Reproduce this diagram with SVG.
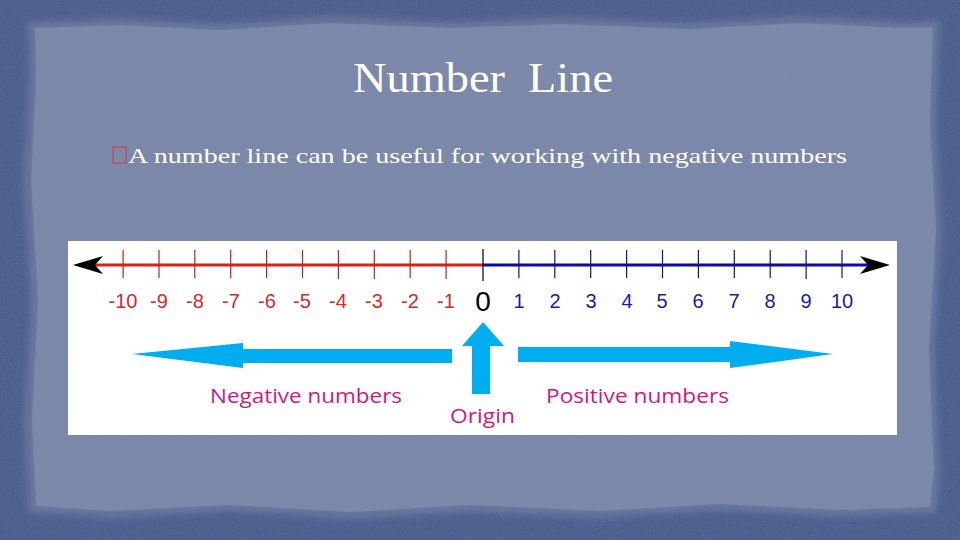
<svg xmlns="http://www.w3.org/2000/svg" width="960" height="540" viewBox="0 0 960 540">
<defs>
<filter id="tex" x="0" y="0" width="100%" height="100%">
<feTurbulence type="fractalNoise" baseFrequency="0.9" numOctaves="2" seed="3" result="n"/>
<feColorMatrix in="n" type="matrix" values="0 0 0 0 0.3  0 0 0 0 0.35  0 0 0 0 0.5  0 0 0 0.35 0"/>
</filter>
<filter id="soft" x="-5%" y="-5%" width="110%" height="110%">
<feGaussianBlur stdDeviation="3"/>
</filter>
<style>
.neg{fill:#d42a2a;font-family:"Liberation Sans",Arial,sans-serif;font-size:20px;text-anchor:middle}
.pos{fill:#1a1aa8;font-family:"Liberation Sans",Arial,sans-serif;font-size:20px;text-anchor:middle}
.tn{stroke:#c81e1e;stroke-width:1.2}
.tp{stroke:#10109a;stroke-width:1.2}
.lab{fill:#d0187c;font-family:"Open Sans","Noto Sans",sans-serif;font-size:20px}
.cy{fill:#00aeef}
</style>
</defs>
<rect width="960" height="540" fill="#46598a"/>
<rect width="960" height="540" filter="url(#tex)" opacity="0.7"/>
<polygon filter="url(#soft)" fill="#66759c" points="28,22 120,18 220,24 330,16 450,22 560,17 690,23 800,16 905,22 940,20 936,120 942,230 934,350 940,470 936,513 840,517 720,510 600,518 470,512 350,519 230,511 110,518 28,512 24,420 31,300 23,180 29,80"/>
<polygon fill="#7a87a9" points="35,28 120,25 220,30 330,23 450,28 560,24 690,29 800,23 900,28 933,27 930,120 936,230 929,350 934,470 930,507 840,510 720,504 600,511 470,505 350,512 230,505 110,511 36,506 32,420 38,300 31,180 36,80"/>
<polygon filter="url(#tex)" opacity="0.35" points="35,28 120,25 220,30 330,23 450,28 560,24 690,29 800,23 900,28 933,27 930,120 936,230 929,350 934,470 930,507 840,510 720,504 600,511 470,505 350,512 230,505 110,511 36,506 32,420 38,300 31,180 36,80"/>
<g id="title">
<text x="483" y="92" fill="#ffffff" font-family="'Liberation Serif','DejaVu Serif',serif" font-size="42" text-anchor="middle" textLength="260" lengthAdjust="spacingAndGlyphs" xml:space="preserve">Number  Line</text>
</g>
<g id="bullet">
<rect x="113" y="147" width="13" height="16" fill="none" stroke="#c04848" stroke-width="1.2"/>
<text x="128" y="163" fill="#ffffff" font-family="'Liberation Serif','DejaVu Serif',serif" font-size="22" textLength="719" lengthAdjust="spacingAndGlyphs">A number line can be useful for working with negative numbers</text>
</g>
<g id="panel">
<rect x="68" y="241" width="829" height="194" fill="#ffffff"/>
</g>
<g id="connectors">
<line x1="92" y1="265" x2="483" y2="265" stroke="#d42020" stroke-width="3"/>
<line x1="483" y1="265" x2="870" y2="265" stroke="#0a0aa8" stroke-width="3"/>
<polygon points="73,265 103,256 95,265 103,274" fill="#000"/>
<polygon points="890,265 860,256 868,265 860,274" fill="#000"/>
<g>
<line class="tn" x1="123.1" y1="250" x2="123.1" y2="278"/>
<line class="tn" x1="159" y1="250" x2="159" y2="278"/>
<line class="tn" x1="194.8" y1="250" x2="194.8" y2="278"/>
<line class="tn" x1="230.7" y1="250" x2="230.7" y2="278"/>
<line class="tn" x1="266.6" y1="250" x2="266.6" y2="278"/>
<line class="tn" x1="302.5" y1="250" x2="302.5" y2="278"/>
<line class="tn" x1="338.4" y1="250" x2="338.4" y2="279"/>
<line class="tn" x1="374.3" y1="250" x2="374.3" y2="279"/>
<line class="tn" x1="410.2" y1="250" x2="410.2" y2="278"/>
<line class="tn" x1="446.1" y1="250" x2="446.1" y2="279"/>
<line x1="483" y1="249" x2="483" y2="281" stroke="#000" stroke-width="1.2"/>
<line class="tp" x1="518.9" y1="250" x2="518.9" y2="278"/>
<line class="tp" x1="554.8" y1="250" x2="554.8" y2="278"/>
<line class="tp" x1="590.7" y1="250" x2="590.7" y2="278" stroke-width="2"/>
<line class="tp" x1="626.6" y1="250" x2="626.6" y2="278" stroke-width="2"/>
<line class="tp" x1="662.5" y1="250" x2="662.5" y2="278"/>
<line class="tp" x1="698.4" y1="250" x2="698.4" y2="278"/>
<line class="tp" x1="734.3" y1="250" x2="734.3" y2="278"/>
<line class="tp" x1="770.2" y1="250" x2="770.2" y2="278"/>
<line class="tp" x1="806.1" y1="250" x2="806.1" y2="279"/>
<line class="tp" x1="842" y1="250" x2="842" y2="278"/>
</g>
<polygon class="cy" points="132,354 243,343 243,349 452,349 452,363 243,363 243,368"/>
<polygon class="cy" points="483,322 504,346 490,346 490,394 472,394 472,346 462,346"/>
<polygon class="cy" points="833,354 730,341 730,347 518,347 518,362 730,362 730,368"/>
</g>
<g id="labels">
<text class="neg" x="123" y="308">-10</text>
<text class="neg" x="159" y="308">-9</text>
<text class="neg" x="195" y="308">-8</text>
<text class="neg" x="231" y="308">-7</text>
<text class="neg" x="267" y="308">-6</text>
<text class="neg" x="302" y="308">-5</text>
<text class="neg" x="338" y="308">-4</text>
<text class="neg" x="374" y="308">-3</text>
<text class="neg" x="410" y="308">-2</text>
<text class="neg" x="446" y="308">-1</text>
<text x="483" y="311" fill="#000" font-family="'Liberation Sans',Arial,sans-serif" font-size="28" text-anchor="middle">0</text>
<text class="pos" x="519" y="308">1</text>
<text class="pos" x="555" y="308">2</text>
<text class="pos" x="591" y="308">3</text>
<text class="pos" x="627" y="308">4</text>
<text class="pos" x="662" y="308">5</text>
<text class="pos" x="698" y="308">6</text>
<text class="pos" x="734" y="308">7</text>
<text class="pos" x="770" y="308">8</text>
<text class="pos" x="806" y="308">9</text>
<text class="pos" x="842" y="308">10</text>
<text class="lab" x="210" y="403" textLength="192" lengthAdjust="spacingAndGlyphs">Negative numbers</text>
<text class="lab" x="450" y="423" textLength="65" lengthAdjust="spacingAndGlyphs">Origin</text>
<text class="lab" x="546" y="403" textLength="183" lengthAdjust="spacingAndGlyphs">Positive numbers</text>
</g>
</svg>
